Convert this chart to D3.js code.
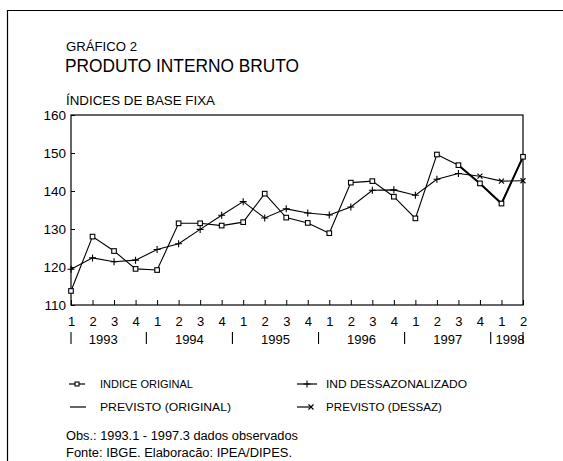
<!DOCTYPE html>
<html><head><meta charset="utf-8">
<script src="https://cdn.jsdelivr.net/npm/d3@7"></script>
<style>
html,body{margin:0;padding:0;background:#fff;}
svg{display:block;}
text{font-family:"Liberation Sans",Arial,sans-serif;fill:#000;}
</style></head>
<body>
<svg id="c" width="563" height="461"></svg>
<script>
// ---- data ----
const quarters = ["1","2","3","4","1","2","3","4","1","2","3","4","1","2","3","4","1","2","3","4","1","2"];
const years = ["1993","1994","1995","1996","1997","1998"];
const yearStart = [0,4,8,12,16,20];
const indiceOriginal = [113.7,128.0,124.2,119.5,119.2,131.5,131.5,130.9,131.8,139.3,133.0,131.6,128.9,142.2,142.6,138.5,132.8,149.6,146.8,142.0,136.7,149.0];
const indDessaz = [119.4,122.4,121.4,121.8,124.6,126.1,129.9,133.6,137.2,132.9,135.3,134.2,133.7,135.8,140.2,140.3,138.9,143.1,144.6];
const previstoOrigIdx = [18,19,20,21];
const previstoOriginal = [146.8,142.0,136.7,149.0];
const previstoDessazIdx = [18,19,20,21];
const previstoDessaz = [144.6,143.9,142.6,142.7];
const yTicks = [110,120,130,140,150,160];

const svg = d3.select("#c");

// outer frame
svg.append("path").attr("d","M7.5,461 V10.5 H563").attr("fill","none").attr("stroke","#000").attr("stroke-width",1.2);

// titles
svg.append("text").attr("x",66).attr("y",50.5).attr("font-size",12.5).attr("textLength",71).attr("lengthAdjust","spacingAndGlyphs").text("GRÁFICO 2");
svg.append("text").attr("x",65).attr("y",71.5).attr("font-size",17.5).attr("textLength",234).attr("lengthAdjust","spacingAndGlyphs").text("PRODUTO INTERNO BRUTO");
svg.append("text").attr("x",66).attr("y",105).attr("font-size",13.5).attr("textLength",149).attr("lengthAdjust","spacingAndGlyphs").text("ÍNDICES DE BASE FIXA");

const x = d3.scaleLinear().domain([0,21]).range([71,523]);
const y = d3.scaleLinear().domain([110,160]).range([305,115]);

// frame
svg.append("rect").attr("x",x(0)).attr("y",y(160)).attr("width",x(21)-x(0)).attr("height",y(110)-y(160))
  .attr("fill","none").attr("stroke","#000").attr("stroke-width",1.2);

const yAxis = svg.append("g").attr("transform",`translate(${x(0)},0)`)
  .call(d3.axisLeft(y).tickValues(yTicks).tickSize(-4).tickPadding(5).tickFormat(d3.format("d")));
yAxis.select(".domain").remove();
yAxis.selectAll("text").attr("font-size",13.5).attr("font-family","Liberation Sans, Arial, sans-serif");
yAxis.selectAll("line").attr("stroke-width",1);

const xAxis = svg.append("g").attr("transform",`translate(0,${y(110)})`)
  .call(d3.axisBottom(x).tickValues(d3.range(quarters.length)).tickSize(-5).tickPadding(12).tickFormat(i=>quarters[i]));
xAxis.select(".domain").remove();
xAxis.selectAll("text").attr("font-size",13).attr("font-family","Liberation Sans, Arial, sans-serif");

// year separators and labels
const seps = yearStart.map((s,k)=> k===0 ? s : s-0.5).concat([21]);
svg.selectAll(".sep").data(seps).join("line")
  .attr("x1",d=>x(d)).attr("x2",d=>x(d)).attr("y1",332).attr("y2",344)
  .attr("stroke","#000").attr("stroke-width",1.1);
svg.selectAll(".yr").data(years).join("text")
  .attr("x",(d,k)=> k<years.length-1 ? x(yearStart[k]+1.5) : x(yearStart[k]+0.4))
  .attr("y",344).attr("text-anchor","middle").attr("font-size",13).text(d=>d);

// lines
const line = d3.line().x(d=>x(d[0])).y(d=>y(d[1]));
const origPts = indiceOriginal.map((v,i)=>[i,v]);
const desPts = indDessaz.map((v,i)=>[i,v]);
const prevOPts = previstoOrigIdx.map((i,k)=>[i,previstoOriginal[k]]);
const prevDPts = previstoDessazIdx.map((i,k)=>[i,previstoDessaz[k]]);

svg.append("path").attr("d",line(desPts)).attr("fill","none").attr("stroke","#000").attr("stroke-width",1.1);
svg.append("path").attr("d",line(prevDPts)).attr("fill","none").attr("stroke","#000").attr("stroke-width",1.1);
svg.append("path").attr("d",line(origPts)).attr("fill","none").attr("stroke","#000").attr("stroke-width",1.1);
svg.append("path").attr("d",line(prevOPts)).attr("fill","none").attr("stroke","#000").attr("stroke-width",2);

// markers
function plus(g,cx,cy,s){ g.append("path").attr("d",`M${cx-s},${cy}H${cx+s}M${cx},${cy-s}V${cy+s}`).attr("stroke","#000").attr("stroke-width",1.1).attr("fill","none"); }
function cross(g,cx,cy,s){ g.append("path").attr("d",`M${cx-s},${cy-s}L${cx+s},${cy+s}M${cx-s},${cy+s}L${cx+s},${cy-s}`).attr("stroke","#000").attr("stroke-width",1.1).attr("fill","none"); }
function square(g,cx,cy,s){ g.append("rect").attr("x",cx-s).attr("y",cy-s).attr("width",2*s).attr("height",2*s).attr("fill","#fff").attr("stroke","#000").attr("stroke-width",1.1); }

const mk = svg.append("g");
desPts.forEach(d=>plus(mk,x(d[0]),y(d[1]),3.5));
prevDPts.slice(1).forEach(d=>cross(mk,x(d[0]),y(d[1]),2.5));
origPts.forEach(d=>square(mk,x(d[0]),y(d[1]),2.3));

// legend
const lg = svg.append("g").attr("font-size",11);
function legItem(x1,x2,cy,label,lx,lw,kind){
  lg.append("line").attr("x1",x1).attr("x2",x2).attr("y1",cy).attr("y2",cy).attr("stroke","#000").attr("stroke-width",1.2);
  if(kind==="square") square(lg,(x1+x2)/2,cy,2);
  if(kind==="plus") plus(lg,(x1+x2)/2,cy,3.5);
  if(kind==="cross") cross(lg,x2,cy,2.5);
  lg.append("text").attr("x",lx).attr("y",cy+4).attr("textLength",lw).attr("lengthAdjust","spacingAndGlyphs").text(label);
}
legItem(69,85,384,"INDICE ORIGINAL",100,93,"square");
legItem(297,317,384,"IND DESSAZONALIZADO",326,141,"plus");
legItem(70,86,407,"PREVISTO (ORIGINAL)",100,131,null);
legItem(297,311,407,"PREVISTO (DESSAZ)",326,116,"cross");

// footnotes
svg.append("text").attr("x",66).attr("y",440).attr("font-size",12).attr("textLength",232).attr("lengthAdjust","spacingAndGlyphs").text("Obs.: 1993.1 - 1997.3 dados observados");
svg.append("text").attr("x",66).attr("y",457).attr("font-size",12).attr("textLength",226).attr("lengthAdjust","spacingAndGlyphs").text("Fonte: IBGE.  Elaboracão: IPEA/DIPES.");
</script>
</body></html>
